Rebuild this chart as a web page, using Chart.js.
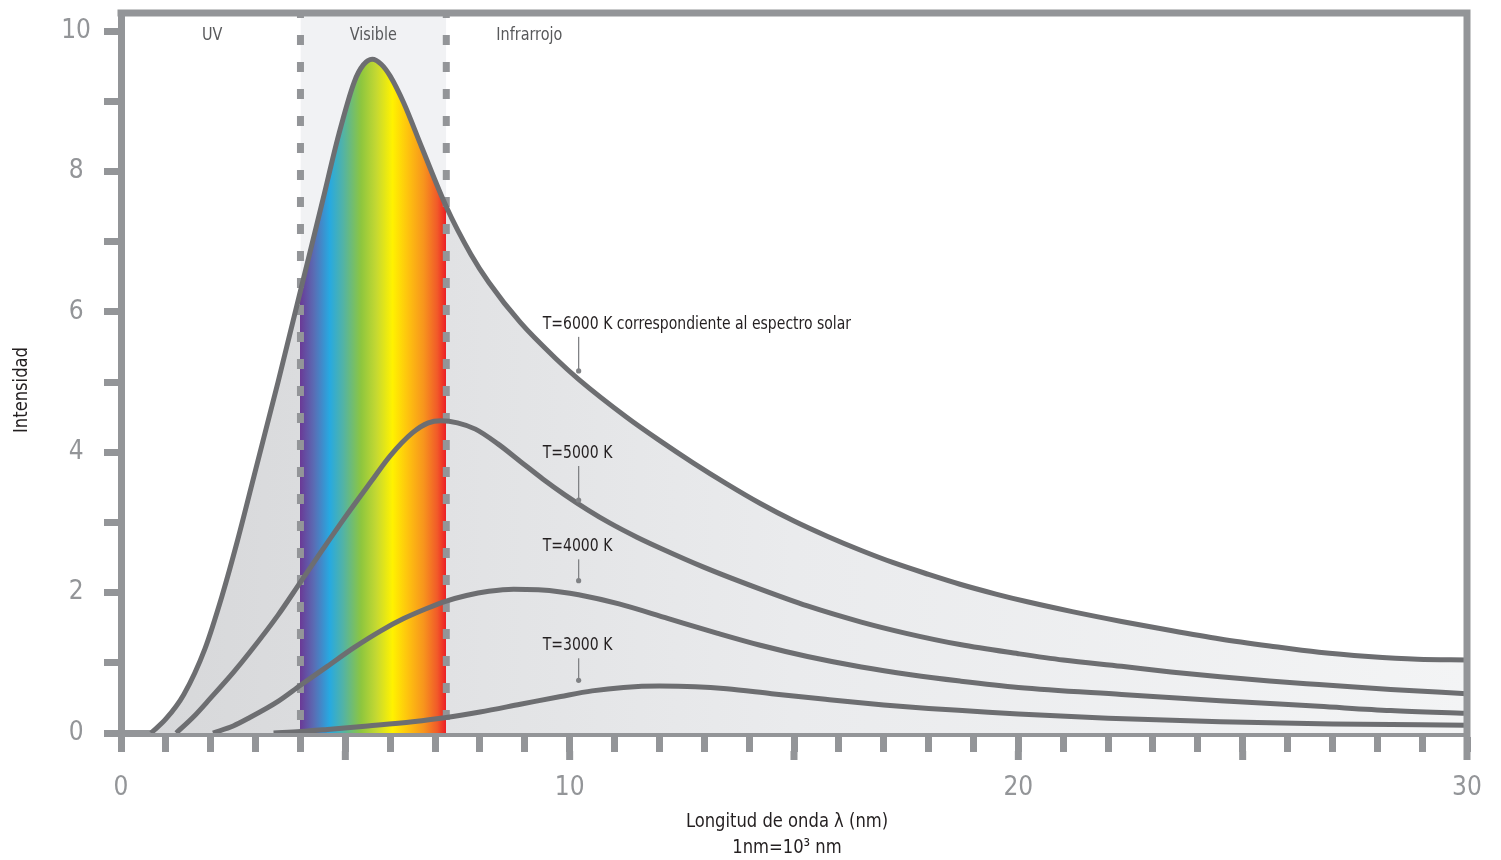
<!DOCTYPE html>
<html><head><meta charset="utf-8">
<script src="https://cdn.jsdelivr.net/npm/chart.js@4.4.1/dist/chart.umd.min.js"></script>
<style>html,body{margin:0;padding:0;background:#fff;}</style>
</head><body>
<canvas id="c" width="1501" height="860" style="display:block"></canvas>
<script>
// ---- data ----
const x6000 = [0.67,1.0,1.4,1.87,2.25,2.6,3.0,3.5,4.0,4.5,4.85,5.2,5.4,5.6,5.8,6.0,6.3,6.7,7.25,7.8,8.2,8.9,9.7,10.2,11.27,12.0,12.75,13.5,14.25,15.0,15.75,16.5,17.2,18.0,18.7,19.5,20.2,21.2,22.3,23.4,24.5,25.6,26.7,27.8,28.9,30];
const y6000 = [0,0.2,0.55,1.2,1.95,2.75,3.75,5.0,6.3,7.6,8.52,9.28,9.52,9.6,9.53,9.36,8.98,8.35,7.5,6.82,6.42,5.85,5.33,5.04,4.5,4.17,3.85,3.55,3.27,3.02,2.8,2.6,2.43,2.26,2.12,1.98,1.87,1.73,1.59,1.46,1.34,1.24,1.15,1.09,1.05,1.04];
const x5000 = [1.23,1.6,2.0,2.5,2.87,3.5,4.0,4.5,5.0,5.57,6.0,6.5,6.85,7.13,7.5,7.9,8.4,8.9,9.4,9.9,10.4,10.9,11.5,12.0,13.0,14.25,15.3,16.5,17.5,18.7,20.0,21.0,22.3,23.4,24.5,25.6,26.7,28.3,30];
const y5000 = [0,0.22,0.5,0.86,1.15,1.68,2.15,2.62,3.08,3.58,3.95,4.28,4.42,4.45,4.42,4.33,4.12,3.87,3.62,3.39,3.18,2.99,2.79,2.64,2.36,2.05,1.81,1.58,1.42,1.26,1.13,1.04,0.95,0.87,0.8,0.74,0.69,0.62,0.56];
const x4000 = [2.05,2.5,2.87,3.5,4.0,4.6,5.2,5.8,6.3,6.8,7.25,7.7,8.2,8.75,9.3,9.8,10.2,11.1,12.2,13.3,14.25,15.3,16.5,17.6,18.7,20.0,22.3,24.5,26.7,28.3,30];
const y4000 = [0,0.1,0.22,0.45,0.68,0.95,1.22,1.46,1.63,1.77,1.88,1.96,2.02,2.05,2.04,2.01,1.97,1.84,1.63,1.42,1.25,1.09,0.94,0.83,0.74,0.65,0.55,0.46,0.38,0.32,0.28];
const x3000 = [3.4,4.0,4.6,5.5,6.5,7.25,8.0,8.9,9.8,10.5,11.2,12.0,12.8,13.5,14.5,15.7,17.0,18.0,19.0,20.0,22.0,24.5,27.0,30];
const y3000 = [0,0.02,0.05,0.1,0.16,0.22,0.3,0.41,0.52,0.6,0.65,0.67,0.66,0.63,0.56,0.48,0.4,0.35,0.31,0.27,0.21,0.16,0.13,0.11];

const visibleBand = [4, 7.25];
const regionLabels = ['UV', 'Visible', 'Infrarrojo'];
const regionX = [2.03, 5.625, 9.1];
const regionY = 9.94;

const annoTexts = ['T=6000 K correspondiente al espectro solar', 'T=5000 K', 'T=4000 K', 'T=3000 K'];
const annoTextX = 9.4;
const annoLineX = 10.2;
const annoTextY = [5.83, 3.99, 2.66, 1.25];
const annoDotY = [5.16, 3.32, 2.17, 0.75];

const xTitleLines = ['Longitud de onda λ (nm)', '1nm=10³ nm'];
const yTitle = 'Intensidad';
const xTickLabels = [0, 10, 20, 30];
const yTickLabels = [0, 2, 4, 6, 8, 10];
const majorXTicks = [5, 10, 15, 20, 25, 30];
const X_MIN = 0, X_MAX = 30, Y_MAX = 10.26;

// ---- styles ----
const FONT = "'Liberation Sans Narrow','DejaVu Sans Condensed','Roboto Condensed','Liberation Sans',sans-serif";
const AXIS_GREY = '#939598';
const CURVE_GREY = '#6d6e71';
const greyStopsLeft = [[0, '#d6d7d9'], [4, '#dbdcde']];
const rainbowStops = [[4.0,'#6a3b97'],[4.3,'#5a6cb4'],[4.65,'#27a9e1'],[4.95,'#52b3a6'],[5.35,'#8dc63f'],[5.7,'#c6d931'],[6.05,'#fff200'],[6.4,'#fec20f'],[6.75,'#f7941d'],[7.05,'#f15a29'],[7.25,'#ed1c24']];
const greyStopsRight = [[7.25, '#e1e2e4'], [15, '#eaebed'], [30, '#f3f4f5']];

const pts = (xs, ys) => xs.map((v, i) => ({x: v, y: ys[i]}));

function fillGradient(c) {
  const chart = c.chart; const xs = chart.scales && chart.scales.x;
  if (!xs || !chart.chartArea) return '#e0e1e3';
  const p0 = xs.getPixelForValue(X_MIN), p1 = xs.getPixelForValue(X_MAX);
  const g = chart.ctx.createLinearGradient(p0, 0, p1, 0);
  const f = v => (v - X_MIN) / (X_MAX - X_MIN);
  [...greyStopsLeft, ...rainbowStops, ...greyStopsRight].forEach(([v, col]) => g.addColorStop(f(v), col));
  return g;
}

const curve = (xs, ys, order) => ({
  data: pts(xs, ys), borderColor: CURVE_GREY, borderWidth: 5, pointRadius: 0,
  fill: false, cubicInterpolationMode: 'monotone', order
});
const dashLine = (xv) => ({
  data: [{x: xv, y: 0}, {x: xv, y: Y_MAX}], borderColor: AXIS_GREY, borderWidth: 7,
  borderDash: [10, 17], borderDashOffset: 14, borderCapStyle: 'butt', pointRadius: 0, fill: false, order: 8
});

function condText(ctx, text, x, y, sx) {
  ctx.save(); ctx.translate(x, y); ctx.scale(sx, 1); ctx.fillText(text, 0, 0); ctx.restore();
}

const decor = {
  id: 'decor',
  afterDraw(chart) {
    const {ctx, chartArea: a, scales: {x, y}} = chart;
    ctx.save();
    ctx.strokeStyle = AXIS_GREY; ctx.lineWidth = 7; ctx.lineCap = 'butt';
    ctx.beginPath();
    ctx.moveTo(a.left - 3.5, a.top); ctx.lineTo(a.right + 3.5, a.top);
    ctx.moveTo(a.right, a.top); ctx.lineTo(a.right, a.bottom + 19);
    majorXTicks.forEach(v => { const px = x.getPixelForValue(v); ctx.moveTo(px, a.bottom + 18); ctx.lineTo(px, a.bottom + 27); });
    ctx.stroke();

    ctx.fillStyle = '#58595b'; ctx.font = `18px ${FONT}`;
    ctx.textAlign = 'center'; ctx.textBaseline = 'middle';
    regionLabels.forEach((t, i) => condText(ctx, t, x.getPixelForValue(regionX[i]), y.getPixelForValue(regionY), 0.89));

    ctx.font = `18px ${FONT}`; ctx.textAlign = 'left';
    const tx = x.getPixelForValue(annoTextX), lx = x.getPixelForValue(annoLineX);
    annoTexts.forEach((t, i) => {
      const ty = y.getPixelForValue(annoTextY[i]);
      const dy = y.getPixelForValue(annoDotY[i]);
      ctx.fillStyle = '#231f20';
      condText(ctx, t, tx, ty, 0.865);
      ctx.strokeStyle = '#808285'; ctx.lineWidth = 1.3;
      ctx.beginPath(); ctx.moveTo(lx, ty + 13); ctx.lineTo(lx, dy); ctx.stroke();
      ctx.fillStyle = '#808285';
      ctx.beginPath(); ctx.arc(lx, dy, 2.6, 0, Math.PI * 2); ctx.fill();
    });

    // axis titles
    ctx.fillStyle = '#231f20'; ctx.font = `20px ${FONT}`; ctx.textAlign = 'center';
    const cx = (a.left + a.right) / 2 - 7;
    condText(ctx, xTitleLines[0], cx, a.bottom + 89, 0.91);
    condText(ctx, xTitleLines[1], cx, a.bottom + 115, 0.91);

    ctx.translate(a.left - 99, (a.top + a.bottom) / 2 + 17);
    ctx.rotate(-Math.PI / 2);
    ctx.scale(0.91, 1);
    ctx.fillText(yTitle, 0, 0);
    ctx.restore();
  }
};

new Chart(document.getElementById('c'), {
  type: 'line',
  data: { datasets: [
    curve(x6000, y6000, 1),
    curve(x5000, y5000, 2),
    curve(x4000, y4000, 3),
    curve(x3000, y3000, 4),
    dashLine(visibleBand[0]),
    dashLine(visibleBand[1]),
    { data: pts(x6000, y6000), borderWidth: 0, borderColor: 'rgba(0,0,0,0)', pointRadius: 0,
      fill: 'origin', backgroundColor: fillGradient, cubicInterpolationMode: 'monotone', order: 9 },
    { data: [{x: visibleBand[0], y: Y_MAX}, {x: visibleBand[1], y: Y_MAX}], borderWidth: 0,
      borderColor: 'rgba(0,0,0,0)', pointRadius: 0, fill: 'origin', backgroundColor: '#f1f2f4', order: 10 }
  ]},
  options: {
    responsive: false, animation: false, devicePixelRatio: 1,
    layout: { padding: { top: 13, right: 34, left: 0, bottom: 0 } },
    plugins: { legend: { display: false }, tooltip: { enabled: false } },
    scales: {
      x: {
        type: 'linear', min: X_MIN, max: X_MAX,
        afterFit(s) { s.height = 127; s.paddingLeft = 0; s.paddingRight = 0; },
        grid: { drawOnChartArea: false, drawTicks: true, tickLength: 19, tickWidth: 7, tickColor: AXIS_GREY },
        border: { display: true, color: AXIS_GREY, width: 7 },
        ticks: { stepSize: 1, autoSkip: false, maxRotation: 0, padding: 21, color: AXIS_GREY,
          font: { family: FONT, size: 26 },
          callback: v => xTickLabels.includes(Math.round(v * 1000) / 1000) ? String(v) : '' },
        title: { display: false }
      },
      y: {
        min: 0, max: Y_MAX,
        afterFit(s) { s.width = 121; s.paddingTop = 0; s.paddingBottom = 0; },
        grid: { drawOnChartArea: false, drawTicks: true, tickLength: 17, tickWidth: 7, tickColor: AXIS_GREY },
        border: { display: true, color: AXIS_GREY, width: 7 },
        ticks: { stepSize: 1, includeBounds: false, autoSkip: false, padding: 13, crossAlign: 'center',
          color: AXIS_GREY, font: { family: FONT, size: 26 },
          callback: v => yTickLabels.includes(Math.round(v * 1000) / 1000) ? String(v) : '' }
      }
    }
  },
  plugins: [decor]
});
</script>
</body></html>
